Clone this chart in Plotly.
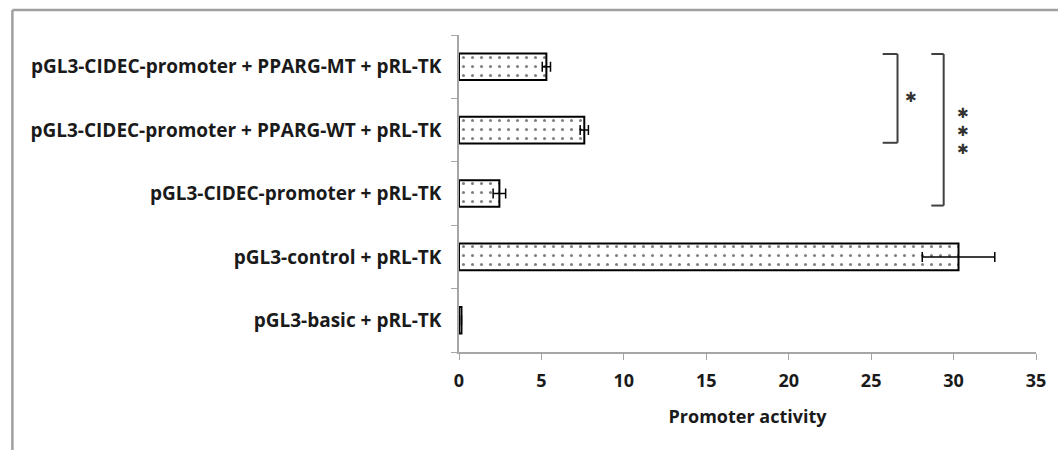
import plotly.graph_objects as go

categories = [
    "pGL3-basic + pRL-TK",
    "pGL3-control + pRL-TK",
    "pGL3-CIDEC-promoter + pRL-TK",
    "pGL3-CIDEC-promoter + PPARG-WT + pRL-TK",
    "pGL3-CIDEC-promoter + PPARG-MT + pRL-TK",
]
activity = [0.15, 30.3, 2.45, 7.6, 5.3]
errors = [0.0, 2.2, 0.38, 0.25, 0.25]
x_ticks = [0, 5, 10, 15, 20, 25, 30, 35]

FONT = "Open Sans"
TXT = "#1a1a1a"
fig = go.Figure()
fig.add_trace(go.Bar(
    y=categories, x=activity, orientation="h",
    marker=dict(color="white", line=dict(color="black", width=2),
                pattern=dict(shape=".", fgcolor="black", bgcolor="white", size=9, solidity=0.09)),
    error_x=dict(type="data", array=errors, visible=True, color="black", thickness=1.5, width=5),
    width=0.42,
))

# significance brackets
idx = {c: i for i, c in enumerate(categories)}
mt, wt, cp = idx[categories[4]], idx[categories[3]], idx[categories[2]]
line = dict(color="#404040", width=2)

def bracket(x0, x1, ytop, ybot):
    fig.add_shape(type="line", x0=x0, x1=x1, y0=ytop, y1=ytop, line=line)
    fig.add_shape(type="line", x0=x1, x1=x1, y0=ytop, y1=ybot, line=line)
    fig.add_shape(type="line", x0=x0, x1=x1, y0=ybot, y1=ybot, line=line)

bracket(25.7, 26.6, mt + 0.2, wt - 0.2)
bracket(28.65, 29.4, mt + 0.2, cp - 0.19)
star_font = dict(family="DejaVu Sans", size=14, color="#333")
fig.add_annotation(x=27.4, y=mt - 0.47, text="✱", showarrow=False, font=star_font)
fig.add_annotation(x=30.55, y=wt - 0.01, text="✱<br>✱<br>✱", showarrow=False, font=star_font)

# outer frame (top and left edges)
frame = dict(color="#a0a0a0", width=2.5)
fig.add_shape(type="line", xref="paper", yref="paper", x0=-0.774, x1=1.1, y0=1.079, y1=1.079, line=frame)
fig.add_shape(type="line", xref="paper", yref="paper", x0=-0.774, x1=-0.774, y0=1.079, y1=-0.4, line=frame)

fig.update_layout(
    width=1058, height=450,
    margin=dict(l=459, r=16, t=35, b=98),
    plot_bgcolor="white", paper_bgcolor="white",
    showlegend=False,
    font=dict(family=FONT, color=TXT),
    xaxis=dict(range=[0, 35], tickvals=x_ticks, showgrid=False, zeroline=False,
               showline=True, linecolor="#a6a6a6", linewidth=1.5,
               ticks="outside", ticklen=6, tickcolor="#a6a6a6", ticklabelstandoff=6,
               tickfont=dict(family=FONT, size=18, color=TXT, weight="bold"),
               title=dict(text="Promoter activity", font=dict(family=FONT, size=18, color=TXT, weight="bold"), standoff=19)),
    yaxis=dict(type="category", categoryorder="array", categoryarray=categories,
               range=[-0.5, 4.5], showgrid=False, zeroline=False,
               showline=True, linecolor="#a6a6a6", linewidth=1.5,
               ticks="outside", ticklen=6, tickcolor="#a6a6a6", tickson="boundaries",
               ticklabelstandoff=12,
               tickfont=dict(family=FONT, size=19, color=TXT, weight="bold")),
)
fig.write_html("out.html", config={"displayModeBar": False},
               post_script="document.body.style.margin='0';")
